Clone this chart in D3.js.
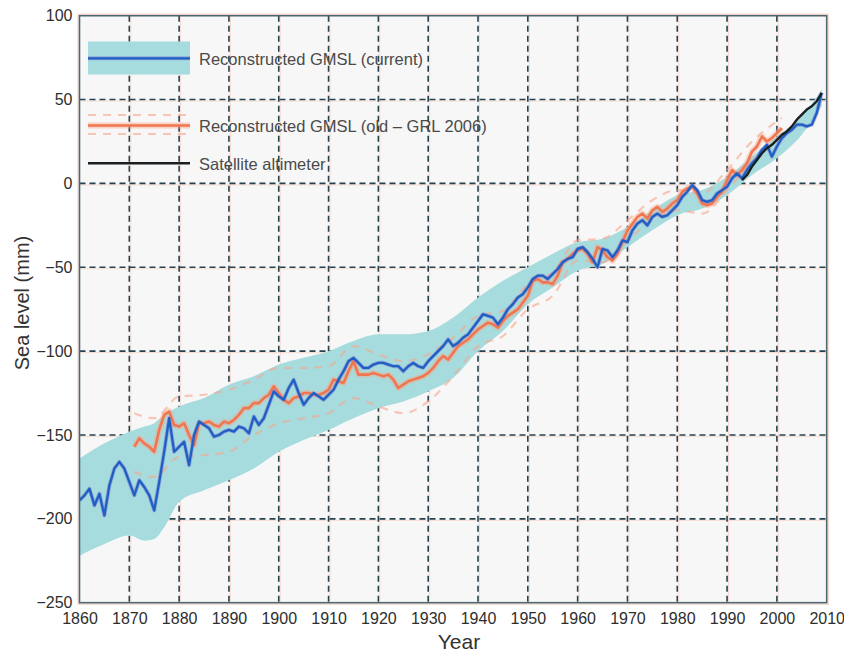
<!DOCTYPE html>
<html>
<head>
<meta charset="utf-8">
<script src="https://cdn.jsdelivr.net/npm/d3@7"></script>
<style>
  html, body { margin: 0; padding: 0; background: #ffffff; }
  svg { display: block; font-family: "Liberation Sans", Arial, Helvetica, sans-serif; }
</style>
</head>
<body>
<svg id="chart" width="844" height="653"></svg>
<script>
// ---------------- DATA ----------------
const xTicks = [1860,1870,1880,1890,1900,1910,1920,1930,1940,1950,1960,1970,1980,1990,2000,2010];
const yTicks = [100,50,0,-50,-100,-150,-200,-250];

// Reconstructed GMSL (current), annual 1860-2009 (mm)
const currentStart = 1860;
const currentGMSL = [
 -189,-186,-182,-192,-185,-198,-180,-170,-166,-170,
 -178,-186,-177,-181,-186,-195,-178,-160,-140,-160,
 -157,-154,-168,-150,-142,-144,-146,-151,-150,-148,
 -147,-148,-145,-146,-149,-139,-144,-140,-132,-124,
 -127,-129,-122,-117,-125,-132,-128,-125,-127,-129,
 -126,-123,-117,-112,-106,-104,-107,-110,-110,-108,
 -107,-107,-108,-109,-109,-112,-109,-107,-109,-110,
 -106,-103,-100,-97,-93,-97,-95,-92,-90,-86,
 -82,-78,-79,-80,-84,-80,-75,-72,-68,-66,
 -62,-57,-55,-55,-57,-54,-51,-47,-45,-44,
 -39,-38,-41,-45,-50,-39,-40,-44,-40,-34,
 -35,-28,-24,-22,-25,-20,-18,-20,-19,-16,
 -13,-8,-5,-1,-4,-10,-11,-10,-6,-4,
 -2,3,6,3,8,12,15,20,23,16,
 22,27,30,32,35,35,34,35,42,54
];

// Uncertainty band of current reconstruction
const bandYears = [1860,1865,1870,1873,1875,1877,1880,1885,1890,1895,1900,1905,1910,1915,1920,1925,1930,1935,1940,1945,1950,1955,1960,1965,1970,1975,1980,1985,1990,1995,2000,2005,2009];
const bandUpper = [-164,-155,-148,-145,-143,-138,-133,-128,-120,-115,-108,-104,-100,-94,-90,-90,-88,-80,-68,-58,-50,-42,-35,-33,-26,-16,-7,-4,4,16,28,40,56];
const bandLower = [-222,-215,-210,-213,-212,-205,-190,-183,-177,-170,-160,-153,-147,-140,-134,-130,-124,-116,-100,-88,-72,-62,-52,-48,-38,-28,-19,-15,-7,5,15,29,46];

// Reconstructed GMSL (old - GRL 2006), annual 1871-2001
const oldStart = 1871;
const oldGMSL = [
 -157,-152,-155,-157,-160,-147,-138,-136,-144,
 -145,-143,-150,-156,-143,-143,-142,-144,-145,-142,
 -143,-141,-138,-134,-134,-131,-131,-128,-126,-121,
 -125,-129,-131,-128,-127,-125,-125,-126,-126,-125,
 -123,-117,-118,-119,-112,-106,-114,-114,-114,-113,
 -114,-115,-114,-117,-122,-120,-118,-117,-116,-115,
 -113,-110,-106,-103,-105,-101,-97,-95,-93,-90,
 -87,-85,-83,-84,-86,-82,-79,-77,-75,-71,
 -67,-58,-57,-59,-59,-60,-55,-47,-45,-42,
 -40,-39,-42,-47,-38,-40,-44,-46,-42,-35,
 -28,-24,-20,-18,-21,-16,-14,-17,-15,-12,
 -10,-5,-3,-2,-6,-12,-13,-12,-8,-5,
 2,8,5,8,12,19,22,28,25,27,
 30,33
];
// Error bounds of old reconstruction (dashed)
const oldBoundYears = [1871,1875,1880,1885,1890,1895,1900,1905,1910,1915,1920,1925,1930,1935,1940,1945,1950,1955,1960,1965,1970,1975,1980,1985,1990,1995,2001];
const oldUpper = [-137,-140,-127,-126,-123,-117,-110,-110,-109,-97,-102,-106,-102,-92,-79,-76,-60,-53,-34,-33,-22,-10,-4,-6,8,25,39];
const oldLower = [-172,-175,-163,-162,-160,-150,-143,-140,-137,-128,-133,-137,-130,-115,-97,-91,-75,-67,-46,-47,-34,-22,-16,-18,-4,13,27];

// Satellite altimeter 1993-2009
const satStart = 1993;
const satellite = [2,5,10,14,18,21,23,26,29,31,34,38,41,44,46,49,54];

const legendLabels = ["Reconstructed GMSL (current)", "Reconstructed GMSL (old \u2013 GRL 2006)", "Satellite altimeter"];

// ---------------- CHART ----------------
const svg = d3.select("#chart");
const L = 79.5, R = 826.7, T = 15.7, B = 602.7;
const x = d3.scaleLinear().domain([1860, 2010]).range([L, R]);
const y = d3.scaleLinear().domain([-250, 100]).range([B, T]);

const cur = currentGMSL.map((v, i) => ({yr: currentStart + i, v}));
const old = oldGMSL.map((v, i) => ({yr: oldStart + i, v}));
const sat = satellite.map((v, i) => ({yr: satStart + i, v}));
const band = bandYears.map((yr, i) => ({yr, hi: bandUpper[i], lo: bandLower[i]}));
const oldB = oldBoundYears.map((yr, i) => ({yr, hi: oldUpper[i], lo: oldLower[i]}));

// plot background
svg.append("rect").attr("x", L).attr("y", T).attr("width", R - L).attr("height", B - T)
  .attr("fill", "#f7f7f7");

svg.append("defs").append("clipPath").attr("id", "clip")
  .append("rect").attr("x", L).attr("y", T).attr("width", R - L).attr("height", B - T);

const grid = svg.append("g");
const vGrid = xTicks.slice(1, -1), hGrid = yTicks.slice(1, -1);
// faint orange fringes
grid.selectAll(".vo").data(vGrid).join("line")
  .attr("x1", d => x(d) + 1.5).attr("x2", d => x(d) + 1.5).attr("y1", T).attr("y2", B)
  .attr("stroke", "#f4b49a").attr("stroke-width", 1).attr("opacity", 0.4);
grid.selectAll(".ho").data(hGrid).join("line")
  .attr("x1", L).attr("x2", R).attr("y1", d => y(d) + 1.5).attr("y2", d => y(d) + 1.5)
  .attr("stroke", "#f4b49a").attr("stroke-width", 1).attr("opacity", 0.4);
grid.selectAll(".v").data(vGrid).join("line")
  .attr("x1", d => x(d)).attr("x2", d => x(d)).attr("y1", T).attr("y2", B)
  .attr("stroke", "#26424e").attr("stroke-width", 1.6).attr("stroke-dasharray", "6,4");
grid.selectAll(".h").data(hGrid).join("line")
  .attr("x1", L).attr("x2", R).attr("y1", d => y(d)).attr("y2", d => y(d))
  .attr("stroke", "#26424e").attr("stroke-width", 1.6).attr("stroke-dasharray", "6,4");

const plot = svg.append("g").attr("clip-path", "url(#clip)");

// band
plot.append("path").datum(band)
  .attr("d", d3.area().x(d => x(d.yr)).y0(d => y(d.lo)).y1(d => y(d.hi)).curve(d3.curveMonotoneX))
  .attr("fill", "#a7dcdf");

// old dashed bounds
const lineB = key => d3.line().x(d => x(d.yr)).y(d => y(d[key])).curve(d3.curveMonotoneX);
["hi", "lo"].forEach(k => {
  plot.append("path").datum(oldB).attr("d", lineB(k))
    .attr("fill", "none").attr("stroke", "#f6a58c").attr("stroke-width", 2.2)
    .attr("stroke-dasharray", "8,7").attr("opacity", 0.6);
});

const line = d3.line().x(d => x(d.yr)).y(d => y(d.v));

// old reconstruction (orange with glow)
plot.append("path").datum(old).attr("d", line)
  .attr("fill", "none").attr("stroke", "#f7a488").attr("stroke-width", 6).attr("opacity", 0.45)
  .attr("stroke-linejoin", "round");
plot.append("path").datum(old).attr("d", line)
  .attr("fill", "none").attr("stroke", "#f07650").attr("stroke-width", 2.6)
  .attr("stroke-linejoin", "round");

// current (blue with purple halo)
plot.append("path").datum(cur).attr("d", line)
  .attr("fill", "none").attr("stroke", "#7b68c8").attr("stroke-width", 4).attr("opacity", 0.45)
  .attr("stroke-linejoin", "round");
plot.append("path").datum(cur).attr("d", line)
  .attr("fill", "none").attr("stroke", "#1d5fc4").attr("stroke-width", 2.3)
  .attr("stroke-linejoin", "round");

// satellite
plot.append("path").datum(sat).attr("d", line)
  .attr("fill", "none").attr("stroke", "#1b1f22").attr("stroke-width", 2.4)
  .attr("stroke-linejoin", "round");

// frame
svg.append("rect").attr("x", L - 1.5).attr("y", T - 1.5).attr("width", R - L + 3).attr("height", B - T + 3)
  .attr("fill", "none").attr("stroke", "#f6b79f").attr("stroke-width", 1).attr("opacity", 0.7);
svg.append("rect").attr("x", L).attr("y", T).attr("width", R - L).attr("height", B - T)
  .attr("fill", "none").attr("stroke", "#4d6873").attr("stroke-width", 1.6);

// axes
const xAxis = svg.append("g").attr("transform", `translate(0,${B})`)
  .call(d3.axisBottom(x).tickValues(xTicks).tickFormat(d3.format("d")).tickSize(0).tickPadding(10));
const yAxis = svg.append("g").attr("transform", `translate(${L},0)`)
  .call(d3.axisLeft(y).tickValues(yTicks).tickFormat(d => d < 0 ? "\u2212" + Math.abs(d) : d).tickSize(0).tickPadding(7));
[xAxis, yAxis].forEach(a => {
  a.select(".domain").remove();
  a.selectAll("text").attr("font-size", 16).attr("fill", "#2e2e2e")
    .attr("font-family", "'Liberation Sans', Arial, sans-serif");
});

svg.append("text").attr("x", 459).attr("y", 649).attr("text-anchor", "middle")
  .attr("font-size", 21).attr("fill", "#333").text("Year");
svg.append("text").attr("transform", "translate(29,303) rotate(-90)").attr("text-anchor", "middle")
  .attr("font-size", 20).attr("fill", "#333").text("Sea level (mm)");

// legend
const lg = svg.append("g");
const lx0 = 88, lx1 = 190;
lg.append("rect").attr("x", lx0).attr("y", 41.5).attr("width", lx1 - lx0).attr("height", 33).attr("fill", "#a7dcdf");
lg.append("line").attr("x1", lx0).attr("x2", lx1).attr("y1", 58.3).attr("y2", 58.3)
  .attr("stroke", "#7b68c8").attr("stroke-width", 4).attr("opacity", 0.45);
lg.append("line").attr("x1", lx0).attr("x2", lx1).attr("y1", 58.3).attr("y2", 58.3)
  .attr("stroke", "#1d5fc4").attr("stroke-width", 2.3);
[115, 134].forEach(yy => lg.append("line").attr("x1", lx0).attr("x2", lx1).attr("y1", yy).attr("y2", yy)
  .attr("stroke", "#f6a58c").attr("stroke-width", 2.2).attr("stroke-dasharray", "8,7").attr("opacity", 0.6));
lg.append("line").attr("x1", lx0).attr("x2", lx1).attr("y1", 125.5).attr("y2", 125.5)
  .attr("stroke", "#f7a488").attr("stroke-width", 6).attr("opacity", 0.45);
lg.append("line").attr("x1", lx0).attr("x2", lx1).attr("y1", 125.5).attr("y2", 125.5)
  .attr("stroke", "#f07650").attr("stroke-width", 2.6);
lg.append("line").attr("x1", lx0).attr("x2", lx1).attr("y1", 163.3).attr("y2", 163.3)
  .attr("stroke", "#1b1f22").attr("stroke-width", 2.6);
[59, 126, 163.5].forEach((yy, i) => lg.append("text").attr("x", 199).attr("y", yy)
  .attr("dominant-baseline", "central").attr("font-size", 16.5).attr("fill", "#4a4a4a")
  .text(legendLabels[i]));
</script>
</body>
</html>
